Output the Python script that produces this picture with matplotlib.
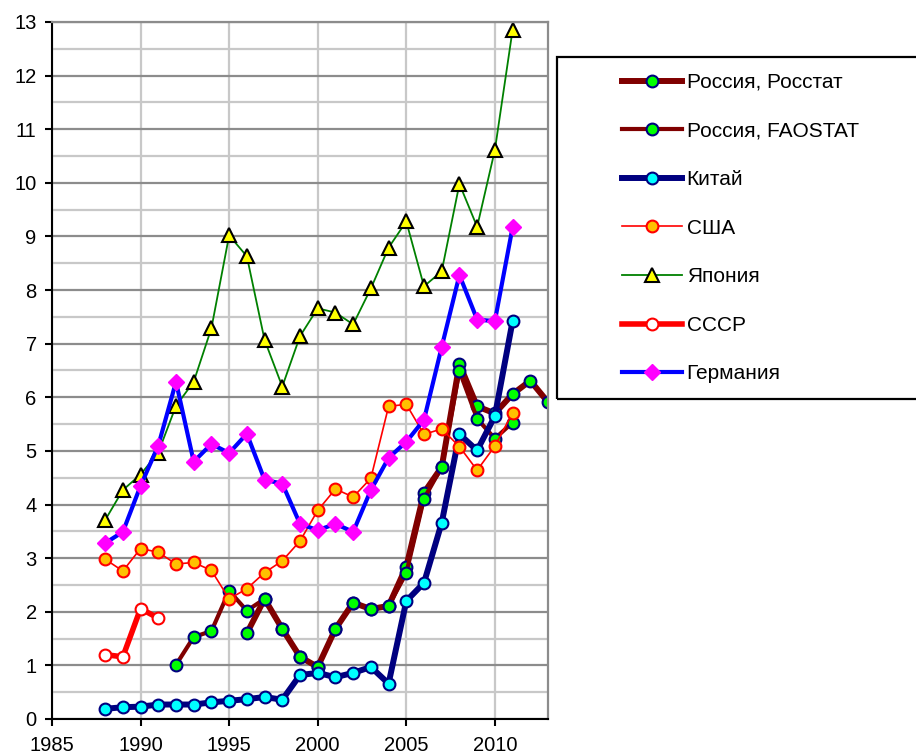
#!/usr/bin/env python
# -*- coding: utf-8 -*-

import numpy as np
import matplotlib
matplotlib.use("Agg")
import matplotlib.pyplot as plt
from matplotlib.patches import Rectangle

plt.rcParams['font.family'] = ['Liberation Sans', 'DejaVu Sans']

# Россия, Росстат (с 1996)
years_rosstat = list(range(1996, 2014))
rosstat = [1.60, 2.24, 1.68, 1.16, 0.97, 1.68, 2.17, 2.05, 2.11,
           2.84, 4.22, 4.70, 6.62, 5.83, 5.70, 6.06, 6.31, 5.91]

# Россия, FAOSTAT (1992-2011)
years_fao = list(range(1992, 2012))
fao = [1.01, 1.53, 1.64, 2.39, 2.02, 2.24, 1.68, 1.16, 0.97, 1.68,
       2.17, 2.05, 2.11, 2.72, 4.11, 4.70, 6.49, 5.60, 5.23, 5.53]

years_88_11 = list(range(1988, 2012))
china = [0.19, 0.22, 0.23, 0.27, 0.27, 0.27, 0.31, 0.34, 0.37, 0.41,
         0.36, 0.82, 0.86, 0.78, 0.86, 0.97, 0.66, 2.20, 2.54, 3.66,
         5.31, 5.01, 5.65, 7.42]
usa = [2.98, 2.76, 3.18, 3.11, 2.89, 2.92, 2.77, 2.24, 2.43, 2.73,
       2.95, 3.32, 3.89, 4.29, 4.14, 4.49, 5.83, 5.87, 5.31, 5.41,
       5.08, 4.64, 5.09, 5.71]
japan = [3.71, 4.27, 4.56, 4.97, 5.84, 6.29, 7.29, 9.02, 8.63, 7.07,
         6.20, 7.14, 7.66, 7.58, 7.36, 8.03, 8.79, 9.28, 8.07, 8.35,
         9.98, 9.18, 10.61, 12.85]
germany = [3.28, 3.49, 4.35, 5.10, 6.29, 4.80, 5.13, 4.96, 5.32, 4.46,
           4.39, 3.64, 3.52, 3.64, 3.49, 4.27, 4.87, 5.17, 5.58, 6.94,
           8.28, 7.45, 7.42, 9.17]

# СССР
years_ussr = [1988, 1989, 1990, 1991]
ussr = [1.20, 1.16, 2.06, 1.88]

x_ticks = [1985, 1990, 1995, 2000, 2005, 2010]
y_ticks = list(range(0, 14))

fig = plt.figure(figsize=(9.16, 7.56), dpi=100)
ax = fig.add_axes([52/916, 37/756, (548-52)/916, (719-22)/756])

ms = 8.5
ax.plot(years_rosstat, rosstat, color='#800000', lw=4.3, marker='o', ms=ms,
        mfc='#00ff00', mec='#000080', mew=1.5, label='Россия, Росстат')
ax.plot(years_fao, fao, color='#800000', lw=3.0, marker='o', ms=ms,
        mfc='#00ff00', mec='#000080', mew=1.5, label='Россия, FAOSTAT')
ax.plot(years_88_11, china, color='#000080', lw=4.3, marker='o', ms=ms,
        mfc='#00ffff', mec='#000080', mew=1.5, label='Китай')
ax.plot(years_88_11, usa, color='#ff0000', lw=1.2, marker='o', ms=ms,
        mfc='#ffc000', mec='#ff0000', mew=1.5, label='США')
ax.plot(years_88_11, japan, color='#008000', lw=1.3, marker='^', ms=9.5,
        mfc='#ffff00', mec='#000000', mew=1.5, label='Япония')
ax.plot(years_ussr, ussr, color='#ff0000', lw=4.0, marker='o', ms=ms,
        mfc='#ffffff', mec='#ff0000', mew=1.5, label='СССР')
ax.plot(years_88_11, germany, color='#0000ff', lw=3.0, marker='D', ms=8,
        mfc='#ff00ff', mec='#ff00ff', mew=1.0, label='Германия')

ax.set_xlim(1985, 2013)
ax.set_ylim(0, 13)
ax.set_xticks(x_ticks)
ax.set_yticks(y_ticks)
ax.set_yticks(np.arange(0.5, 13, 1.0), minor=True)
ax.tick_params(axis='y', which='minor', length=0)
ax.tick_params(axis='both', which='major', direction='out', length=5,
               width=1.5, labelsize=14.5, color='black')
ax.tick_params(axis='y', pad=6)
ax.tick_params(axis='x', pad=7)

ax.grid(axis='y', which='major', color='#8c8c8c', lw=1.6, zorder=0)
ax.grid(axis='y', which='minor', color='#c8c8c8', lw=1.6, zorder=0)
ax.grid(axis='x', which='major', color='#c8c8c8', lw=1.6, zorder=0)
ax.set_axisbelow(True)

ax.spines['left'].set_color('black')
ax.spines['left'].set_linewidth(1.5)
ax.spines['bottom'].set_color('black')
ax.spines['bottom'].set_linewidth(1.5)
ax.spines['right'].set_color('#8c8c8c')
ax.spines['right'].set_linewidth(1.6)
ax.spines['top'].set_color('#8c8c8c')
ax.spines['top'].set_linewidth(1.6)

# рамка легенды
fig.patches.append(Rectangle((557/916, 1 - 399/756), 0.5, (399-57)/756,
                             transform=fig.transFigure, fill=False,
                             edgecolor='black', lw=1.6))
handles, labels = ax.get_legend_handles_labels()
fig.legend(handles, labels, loc='upper left',
           bbox_to_anchor=(622/916, 1 - 73/756), frameon=False,
           fontsize=15, numpoints=1, handlelength=2.9, handletextpad=0.2,
           labelspacing=1.42, borderpad=0, borderaxespad=0)

fig.savefig('out.png', dpi=100)
